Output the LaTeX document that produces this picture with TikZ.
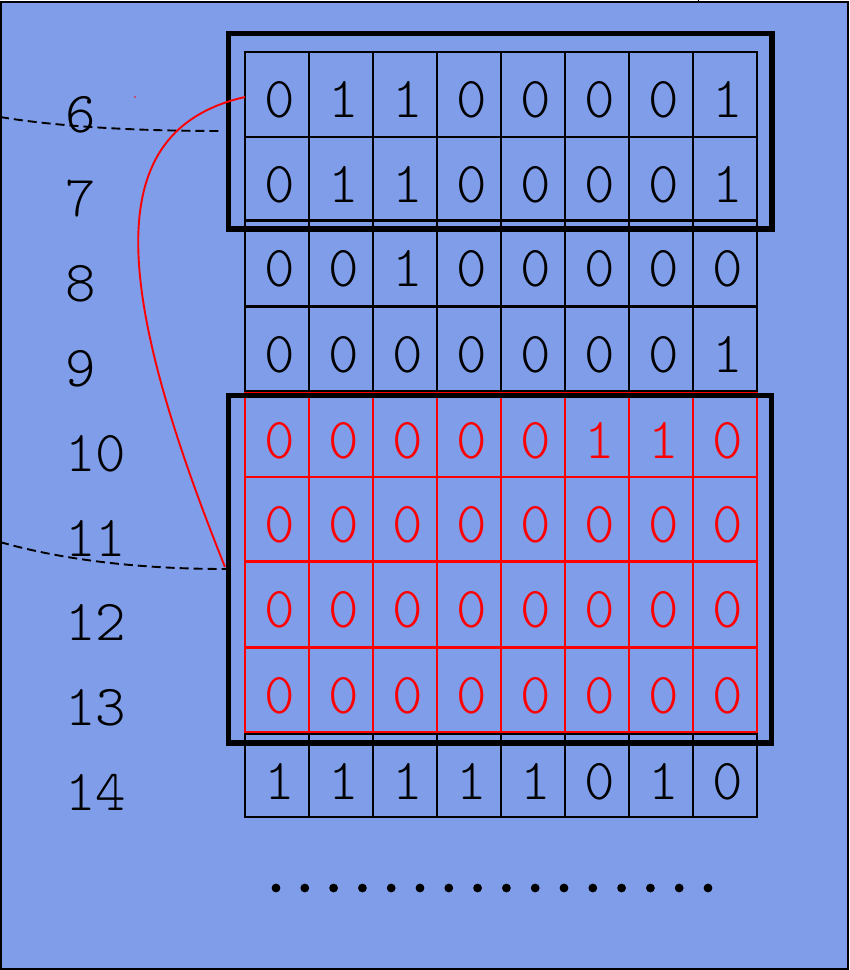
\documentclass[tikz,border=0pt]{standalone}
\usepackage{fontspec}
\setmonofont{Latin Modern Mono Light}
\definecolor{bgblue}{RGB}{127,157,232}
\definecolor{redline}{RGB}{255,0,0}
\begin{document}
\begin{tikzpicture}[x=1pt,y=-1pt,
  cellline/.style={line width=2.2pt},
  framebox/.style={line width=5.5pt},
  digit/.style={anchor=base, inner sep=0pt, font=\fontsize{58}{60}\selectfont\ttfamily},
  rowlabel/.style={anchor=base west, inner sep=0pt, font=\fontsize{58}{60}\selectfont\ttfamily},
  dashcurve/.style={dash pattern=on 9pt off 5pt, line width=1.9pt},
  redcurve/.style={redline, line width=1.9pt}]
\useasboundingbox (0,0) rectangle (850,970);
\fill[bgblue] (1,2) rectangle (848,969);
\draw[line width=2pt] (1,2) rectangle (848,969);
\draw[line width=1pt] (698,0) -- (698,2);

% row labels
\foreach \n [count=\k from 0] in {6,7,8,9,10,11,12,13,14}
  \node[rowlabel] (lbl\n) at (65,{132+84.8*\k}) {\n};

% cell rows: index/top/bottom/colour/bits
\foreach \r/\top/\bot/\c/\bits in {
  0/52/137/black/{0,1,1,0,0,0,0,1},
  1/137/220/black/{0,1,1,0,0,0,0,1},
  2/221/306/black/{0,0,1,0,0,0,0,0},
  3/307/391/black/{0,0,0,0,0,0,0,1},
  4/393/477/redline/{0,0,0,0,0,1,1,0},
  5/477/561/redline/{0,0,0,0,0,0,0,0},
  6/562/647/redline/{0,0,0,0,0,0,0,0},
  7/648/732/redline/{0,0,0,0,0,0,0,0},
  8/734/817/black/{1,1,1,1,1,0,1,0}}{
  \foreach \b [count=\i from 0] in \bits {
    \draw[cellline, draw=\c] ({245+64*\i},\top) rectangle ({309+64*\i},\bot);
    \node[digit, text=\c] (d\r-\i) at ({280+64*\i},{\top+65}) {\b};
  }
}

% frames
\coordinate (f1a) at (228.5,33.5);
\coordinate (f1b) at (772,229);
\coordinate (f2a) at (228.5,395.5);
\coordinate (f2b) at (771.5,743);
\draw[framebox] (f1a) rectangle (f1b);
\draw[framebox] (f2a) rectangle (f2b);

% dashed curves
\coordinate (da1) at (0,117);
\coordinate (db1) at (221,131);
\coordinate (da2) at (0,542);
\coordinate (db2) at (226,569);
\draw[dashcurve] (da1) .. controls (60,127) and (140,131) .. (db1);
\draw[dashcurve] (da2) .. controls (70,562) and (150,569) .. (db2);

% red curve
\coordinate (rs) at (245,97);
\coordinate (re) at (225,567);
\draw[redcurve] (rs) .. controls (100,130) and (112,285) .. (re);
\fill[redline] (135,97) circle (0.8);

% dots
\foreach \k in {0,...,15}
  \fill (276+28.8*\k,888) circle (4.4);
\end{tikzpicture}
\end{document}
